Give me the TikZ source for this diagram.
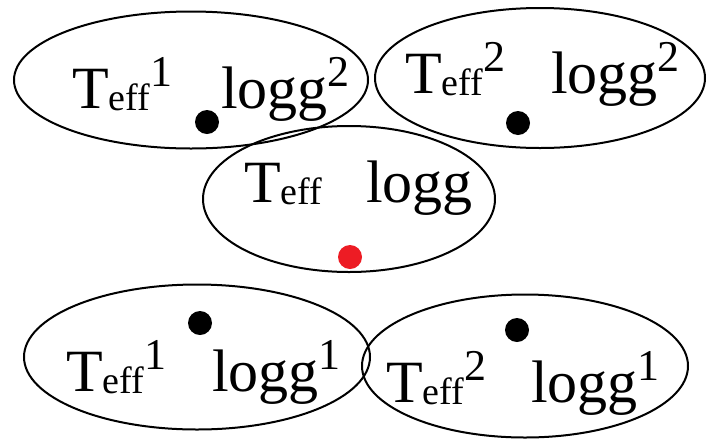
\documentclass[tikz,border=0pt]{standalone}
\usepackage{fontspec}
\setmainfont{Liberation Serif}
\usetikzlibrary{shapes.geometric}
\definecolor{dotred}{HTML}{ED1C24}

% Teff and logg labels with sub/superscripts set inline
\newcommand\mainsz{\fontsize{60}{72}\selectfont}
\newcommand\subsz{\fontsize{38}{42}\selectfont}
\newcommand\supsz{\fontsize{44}{48}\selectfont}
\newcommand\tefflabel[1]{{\mainsz T}{\subsz\raisebox{-2pt}{eff}}{\supsz\raisebox{22pt}{#1}}}
\newcommand\logglabel[1]{{\mainsz logg}{\supsz\raisebox{22pt}{#1}}}

\tikzset{
  region/.style={draw=black, line width=2pt, ellipse, inner sep=0pt},
  lbl/.style={anchor=base west, inner sep=0pt, outer sep=0pt, text=black},
  pt/.style={circle, fill=black, inner sep=0pt, minimum size=24pt},
}

\begin{document}
\begin{tikzpicture}[x=1pt, y=-1pt]
  \useasboundingbox (0,0) rectangle (707,440);

  % regions
  \node[region, minimum width=354pt, minimum height=137pt] (e1) at (191,80) {};
  \node[region, minimum width=330pt, minimum height=140pt] (e2) at (540,78) {};
  \node[region, minimum width=292pt, minimum height=146pt] (e3) at (349,199) {};
  \node[region, minimum width=346pt, minimum height=145pt] (e4) at (197,357) {};
  \node[region, minimum width=326pt, minimum height=143pt] (e5) at (525,366) {};

  % labels
  \node[lbl] (t1) at (72,108) {\tefflabel{1}};
  \node[lbl] (g1) at (221,108) {\logglabel{2}};
  \node[lbl] (t2) at (405,93) {\tefflabel{2}};
  \node[lbl] (g2) at (551,93) {\logglabel{2}};
  \node[lbl] (t3) at (244,202) {\tefflabel{}};
  \node[lbl] (g3) at (366,202) {\logglabel{}};
  \node[lbl] (t4) at (66,391) {\tefflabel{1}};
  \node[lbl] (g4) at (212,391) {\logglabel{1}};
  \node[lbl] (t5) at (386,402) {\tefflabel{2}};
  \node[lbl] (g5) at (531,402) {\logglabel{1}};

  % points
  \node[pt] (p1) at (207,122) {};
  \node[pt] (p2) at (518,123) {};
  \node[pt, fill=dotred] (p3) at (350,257) {};
  \node[pt] (p4) at (200,323) {};
  \node[pt] (p5) at (517,330) {};
\end{tikzpicture}
\end{document}
